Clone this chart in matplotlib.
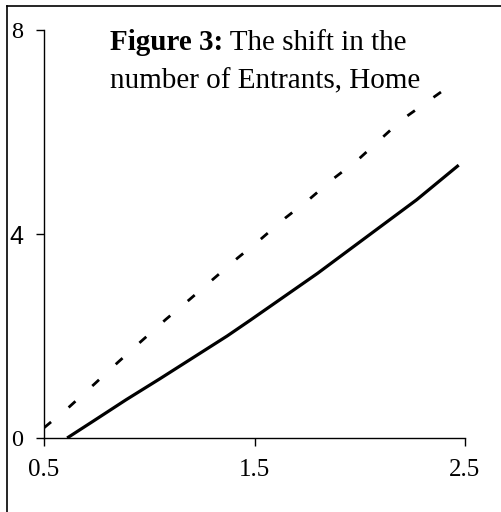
import matplotlib
matplotlib.use("Agg")
import matplotlib.pyplot as plt
from matplotlib.lines import Line2D

# Data
solid_x = [0.61, 0.73, 0.89, 1.05, 1.21, 1.37, 1.48, 1.64, 1.80, 1.95, 2.11, 2.27, 2.47]
solid_y = [0.0, 0.32, 0.75, 1.16, 1.58, 2.0, 2.31, 2.77, 3.23, 3.69, 4.18, 4.67, 5.35]
dashed_x = [0.5, 0.62, 0.74, 0.85, 0.96, 1.08, 1.19, 1.42, 1.53, 1.645, 1.76, 1.87, 1.99, 2.2, 2.46]
dashed_y = [0.2, 0.61, 1.06, 1.48, 1.89, 2.33, 2.71, 3.53, 3.90, 4.31, 4.68, 5.07, 5.45, 6.24, 7.0]
x_ticks = [0.5, 1.5, 2.5]
x_labels = ["0.5", "1.5", "2.5"]
y_ticks = [0, 4, 8]
y_labels = ["0", "4", "8"]
title_bold = "Figure 3:"
title_rest = " The shift in the"
title_line2 = "number of Entrants, Home"

W, H = 501, 512
fig = plt.figure(figsize=(W / 100, H / 100), dpi=100)
fig.patch.set_facecolor("white")

ax = fig.add_axes([44 / W, (H - 438) / H, (465 - 44) / W, (438 - 30) / H])
ax.plot(solid_x, solid_y, color="black", lw=2.3, solid_capstyle="butt")
ax.plot(dashed_x, dashed_y, color="black", lw=2.0, dashes=(3.3, 8.2), dash_capstyle="butt")

ax.set_xlim(0.5, 2.5)
ax.set_ylim(0, 8)
for s in ["top", "right"]:
    ax.spines[s].set_visible(False)
for s in ["left", "bottom"]:
    ax.spines[s].set_linewidth(1.0)
ax.set_xticks(x_ticks)
ax.set_xticklabels(x_labels, fontfamily="Liberation Serif", fontsize=18)
ax.set_yticks(y_ticks)
ax.set_yticklabels(y_labels, fontfamily="Liberation Serif", fontsize=17.5)
for lab in ax.get_yticklabels():
    if lab.get_text() == "4":
        lab.set_fontfamily("Liberation Sans")
        lab.set_fontsize(18)
ax.tick_params(axis="x", direction="out", length=6, width=1.0, pad=9)
ax.tick_params(axis="y", direction="out", length=6, width=1.0, pad=9)

# Title text inside the plot
t1 = fig.text(110 / W, 1 - 50 / H, title_bold, fontfamily="Liberation Serif",
              fontweight="bold", fontsize=21, ha="left", va="baseline")
fig.canvas.draw()
bb = t1.get_window_extent()
fig.text(bb.x1 / W, 1 - 50 / H, title_rest, fontfamily="Liberation Serif",
         fontsize=21, ha="left", va="baseline")
fig.text(110 / W, 1 - 88 / H, title_line2, fontfamily="Liberation Serif",
         fontsize=21, ha="left", va="baseline")

# Outer frame (top and left edges visible)
fig.add_artist(Line2D([7 / W, 1.0], [1 - 6 / H, 1 - 6 / H], color="black", lw=1.2,
                      transform=fig.transFigure))
fig.add_artist(Line2D([7 / W, 7 / W], [1 - 6 / H, 0.0], color="black", lw=1.2,
                      transform=fig.transFigure))

fig.savefig("out.png", dpi=100, facecolor="white")
